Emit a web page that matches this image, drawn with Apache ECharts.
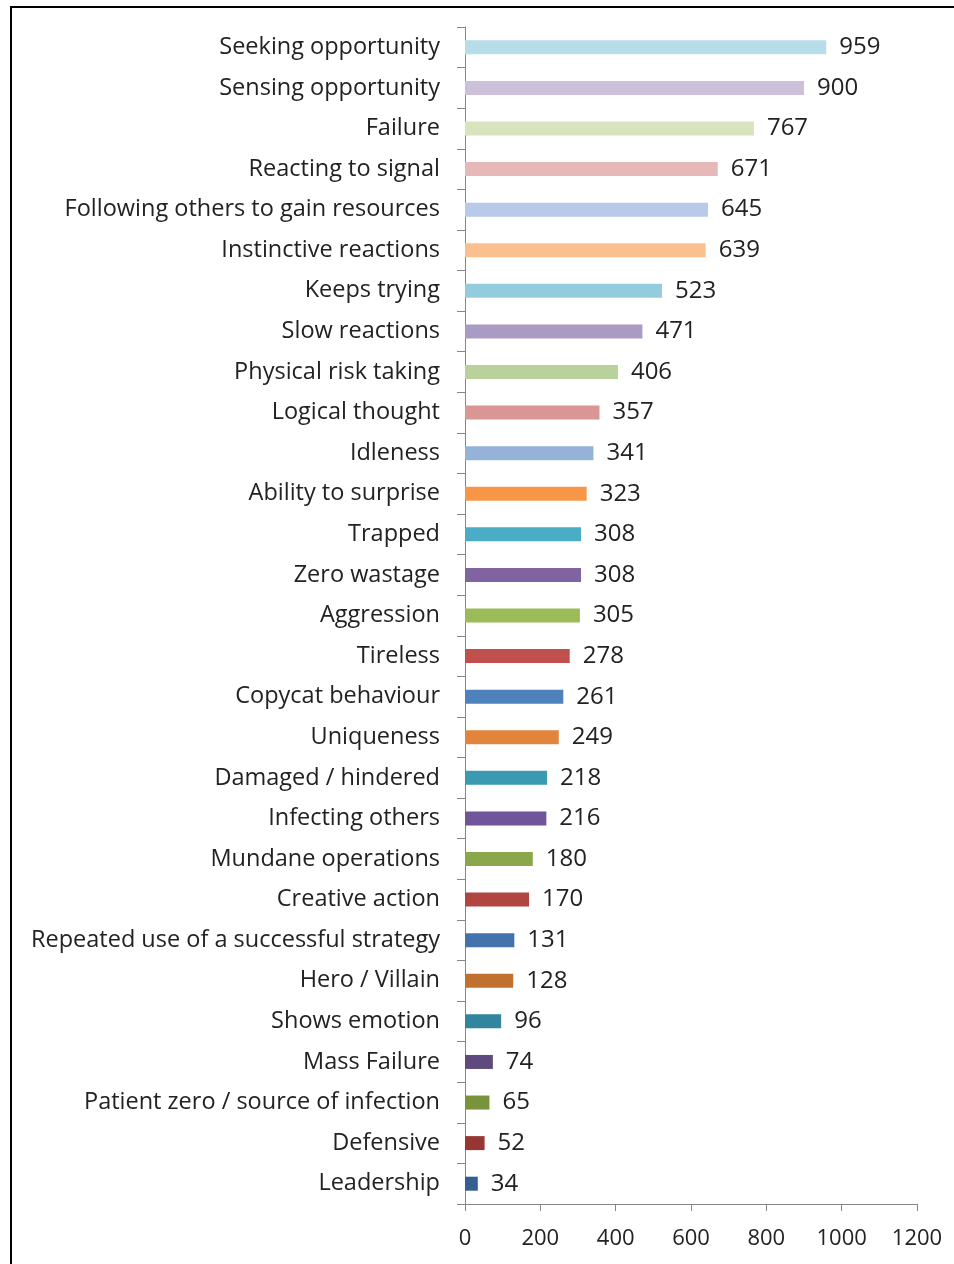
<!DOCTYPE html>
<html>
<head>
<meta charset="utf-8">
<script src="https://cdn.jsdelivr.net/npm/echarts@6/dist/echarts.min.js"></script>
<style>
html,body{margin:0;padding:0;background:#fff;}
#frame{position:absolute;left:10px;top:6px;width:944px;height:1258px;border-top:2px solid #000;border-left:2px solid #000;box-sizing:border-box;}
#chart{position:absolute;left:0;top:0;width:954px;height:1264px;}
</style>
</head>
<body>
<div id="frame"></div>
<div id="chart"></div>
<script>
const categories = [
  "Seeking opportunity","Sensing opportunity","Failure","Reacting to signal",
  "Following others to gain resources","Instinctive reactions","Keeps trying",
  "Slow reactions","Physical risk taking","Logical thought","Idleness",
  "Ability to surprise","Trapped","Zero wastage","Aggression","Tireless",
  "Copycat behaviour","Uniqueness","Damaged / hindered","Infecting others",
  "Mundane operations","Creative action","Repeated use of a successful strategy",
  "Hero / Villain","Shows emotion","Mass Failure","Patient zero / source of infection",
  "Defensive","Leadership"
];
const values = [959,900,767,671,645,639,523,471,406,357,341,323,308,308,305,278,261,249,218,216,180,170,131,128,96,74,65,52,34];
const barColors = [
  "#B7DDE8","#CCC0DA","#D7E4BD","#E6B9B8","#B9C9E9","#FAC090","#93CDDD",
  "#A99BC4","#B9D19A","#D99694","#95B3D7","#F79646","#4BACC6","#8064A2",
  "#9BBB59","#C0504D","#4F81BD","#E3843D","#3A9AB2","#71559B","#8AA84B",
  "#B14542","#4472AD","#C0702F","#31859C","#5F4A7F","#77933C","#963734","#365F91"
];
const xTicks = {min:0, max:1200, interval:200};

const chart = echarts.init(document.getElementById('chart'), null, {renderer:'canvas'});
const font = "Open Sans";
chart.setOption({
  animation:false,
  grid:{left:465, right:37, top:27, bottom:60, containLabel:false},
  xAxis:{
    type:'value', min:xTicks.min, max:xTicks.max, interval:xTicks.interval,
    splitLine:{show:false},
    axisLine:{show:true, lineStyle:{color:'#868686', width:1}},
    axisTick:{show:true, length:7, lineStyle:{color:'#868686'}},
    axisLabel:{color:'#222', fontFamily:font, fontSize:22, margin:24, formatter:(v)=>String(v)}
  },
  yAxis:{
    type:'category', data:categories, inverse:true,
    axisLine:{show:true, lineStyle:{color:'#868686', width:1}},
    axisTick:{show:true, length:8, lineStyle:{color:'#868686'}},
    axisLabel:{color:'#222', fontFamily:font, fontSize:23.5, margin:25}
  },
  series:[{
    type:'bar', barWidth:14,
    data: values.map((v,i)=>({value:v, itemStyle:{color:barColors[i]}})),
    label:{show:true, position:'right', distance:13, color:'#222', fontFamily:font, fontSize:24}
  }]
});
</script>
</body>
</html>
